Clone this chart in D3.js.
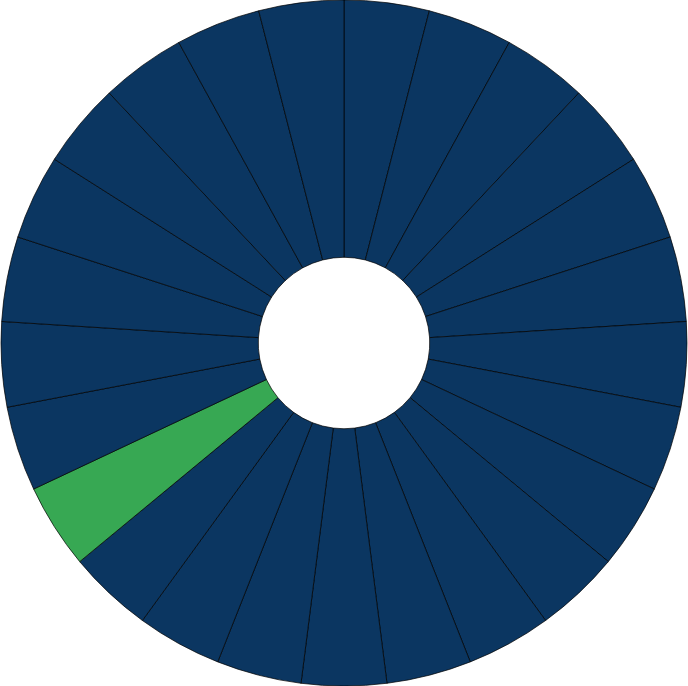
<!DOCTYPE html>
<html><head><meta charset="utf-8">
<script src="https://cdn.jsdelivr.net/npm/d3@7"></script>
<style>html,body{margin:0;padding:0;background:#fff;}svg{display:block;}</style>
</head><body>
<script>
const categories = d3.range(1, 26).map(i => "Item " + i);
const values = [1,1,1,1,1,1,1,1,1,1,1,1,1,1,1,1,1,1,1,1,1,1,1,1,1];
const highlighted = ["Item 17"];
const colors = { base: "#0b3661", highlight: "#37a853" };

const W = 688, H = 686;
const cx = 344, cy = 343, outerR = 343, innerR = 85.75;
const svg = d3.select("body").append("svg").attr("width", W).attr("height", H);
const g = svg.append("g").attr("transform", `translate(${cx},${cy})`);
const data = categories.map((c, i) => ({ cat: c, v: values[i] }));
const pie = d3.pie().value(d => d.v).sort(null);
const arc = d3.arc().innerRadius(innerR).outerRadius(outerR);
g.selectAll("path").data(pie(data)).join("path")
  .attr("d", arc)
  .attr("fill", d => highlighted.includes(d.data.cat) ? colors.highlight : colors.base)
  .attr("stroke", "#000")
  .attr("stroke-width", 0.7);
</script>
</body></html>
